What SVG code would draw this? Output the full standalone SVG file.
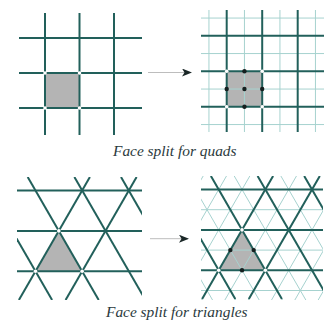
<svg xmlns="http://www.w3.org/2000/svg" width="333" height="329" viewBox="0 0 333 329">
<style>
.bg{fill:#ffffff}
.thick{stroke:#22605b;stroke-width:2;fill:none;stroke-linecap:butt}
.thin{stroke:#a6d2cf;stroke-width:1;fill:none}
.face{fill:#b4b4b4;stroke:none}
.hole{fill:#ffffff;stroke:none}
.dot{fill:#151f1f;stroke:none}
.arrowline{stroke:#bdbdbd;stroke-width:1}
.cap{font-family:"Liberation Serif","DejaVu Serif",serif;font-style:italic;font-size:15.4px;fill:#2b3a3d}
</style>
<defs>
<clipPath id="clipL"><rect x="17" y="177" width="125" height="123"/></clipPath>
<clipPath id="clipR"><rect x="201" y="176" width="122" height="124"/></clipPath>
<marker id="ah" viewBox="0 0 10 8" refX="9" refY="4" markerWidth="10" markerHeight="8" markerUnits="userSpaceOnUse" orient="auto">
<path d="M0,0 L10,4 L0,8 L2.5,4 Z" fill="#1a2727"/>
</marker>
</defs>
<rect class="bg" x="0" y="0" width="333" height="329"/>

<g id="quad-coarse">
<rect class="face" x="45" y="73" width="34.5" height="35"/>
<line class="thick" x1="19" y1="38" x2="142" y2="38"/>
<line class="thick" x1="19" y1="73" x2="142" y2="73"/>
<line class="thick" x1="19" y1="108" x2="142" y2="108"/>
<line class="thick" x1="45" y1="13" x2="45" y2="135"/>
<line class="thick" x1="79.5" y1="13" x2="79.5" y2="135"/>
<line class="thick" x1="114" y1="13" x2="114" y2="135"/>
<circle class="hole" cx="45" cy="73" r="1.8"/>
<circle class="hole" cx="79.5" cy="73" r="1.8"/>
<circle class="hole" cx="45" cy="108" r="1.8"/>
<circle class="hole" cx="79.5" cy="108" r="1.8"/>
</g>

<g id="quad-fine">
<rect class="face" x="226.7" y="71.3" width="35.5" height="35.5"/>
<line class="thin" x1="201" y1="18.05" x2="324" y2="18.05"/>
<line class="thin" x1="201" y1="53.55" x2="324" y2="53.55"/>
<line class="thin" x1="201" y1="89.05" x2="324" y2="89.05"/>
<line class="thin" x1="201" y1="124.55" x2="324" y2="124.55"/>
<line class="thin" x1="208.95" y1="10" x2="208.95" y2="132"/>
<line class="thin" x1="244.45" y1="10" x2="244.45" y2="132"/>
<line class="thin" x1="279.95" y1="10" x2="279.95" y2="132"/>
<line class="thin" x1="315.45" y1="10" x2="315.45" y2="132"/>
<line class="thick" x1="201" y1="35.8" x2="324" y2="35.8"/>
<line class="thick" x1="201" y1="71.3" x2="324" y2="71.3"/>
<line class="thick" x1="201" y1="106.8" x2="324" y2="106.8"/>
<line class="thick" x1="226.7" y1="10" x2="226.7" y2="132"/>
<line class="thick" x1="262.2" y1="10" x2="262.2" y2="132"/>
<line class="thick" x1="297.7" y1="10" x2="297.7" y2="132"/>
<circle class="hole" cx="226.7" cy="71.3" r="1.8"/>
<circle class="hole" cx="262.2" cy="71.3" r="1.8"/>
<circle class="hole" cx="226.7" cy="106.8" r="1.8"/>
<circle class="hole" cx="262.2" cy="106.8" r="1.8"/>
<circle class="dot" cx="244.45" cy="71.3" r="2.2"/>
<circle class="dot" cx="226.7" cy="89.05" r="2.2"/>
<circle class="dot" cx="262.2" cy="89.05" r="2.2"/>
<circle class="dot" cx="244.45" cy="106.8" r="2.2"/>
<circle class="dot" cx="244.45" cy="89.05" r="2.2"/>
</g>

<g id="tri-coarse">
<polygon class="face" points="58.83,230.9 35.5,271.3 82.15,271.3"/>
<g clip-path="url(#clipL)">
<line class="thick" x1="17" y1="190.5" x2="142" y2="190.5"/>
<line class="thick" x1="17" y1="230.9" x2="142" y2="230.9"/>
<line class="thick" x1="17" y1="271.3" x2="142" y2="271.3"/>
<line class="thick" x1="27.7" y1="177" x2="98.7" y2="300"/>
<line class="thick" x1="89.9" y1="177" x2="18.9" y2="300"/>
<line class="thick" x1="74.4" y1="177" x2="145" y2="299.3"/>
<line class="thick" x1="136.6" y1="177" x2="65.6" y2="300"/>
<line class="thick" x1="121" y1="177" x2="145" y2="218.6"/>
<line class="thick" x1="14" y1="234" x2="52.1" y2="300"/>
</g>
<circle class="hole" cx="58.83" cy="230.9" r="1.8"/>
<circle class="hole" cx="35.5" cy="271.3" r="1.8"/>
<circle class="hole" cx="82.15" cy="271.3" r="1.8"/>
</g>

<g id="tri-fine">
<polygon class="face" points="242.03,229.9 218.7,270.3 265.35,270.3"/>
<g clip-path="url(#clipR)">
<line class="thin" x1="201" y1="209.7" x2="323" y2="209.7"/>
<line class="thin" x1="201" y1="250.1" x2="323" y2="250.1"/>
<line class="thin" x1="201" y1="290.5" x2="323" y2="290.5"/>
<line class="thin" x1="114.14" y1="170" x2="192.09" y2="305"/>
<line class="thin" x1="137.47" y1="170" x2="215.42" y2="305"/>
<line class="thin" x1="160.79" y1="170" x2="238.74" y2="305"/>
<line class="thin" x1="184.12" y1="170" x2="262.07" y2="305"/>
<line class="thin" x1="207.44" y1="170" x2="285.39" y2="305"/>
<line class="thin" x1="230.77" y1="170" x2="308.72" y2="305"/>
<line class="thin" x1="254.09" y1="170" x2="332.04" y2="305"/>
<line class="thin" x1="277.42" y1="170" x2="355.37" y2="305"/>
<line class="thin" x1="300.74" y1="170" x2="378.69" y2="305"/>
<line class="thin" x1="324.07" y1="170" x2="402.02" y2="305"/>
<line class="thin" x1="206.64" y1="170" x2="128.69" y2="305"/>
<line class="thin" x1="229.96" y1="170" x2="152.01" y2="305"/>
<line class="thin" x1="253.29" y1="170" x2="175.34" y2="305"/>
<line class="thin" x1="276.61" y1="170" x2="198.66" y2="305"/>
<line class="thin" x1="299.94" y1="170" x2="221.99" y2="305"/>
<line class="thin" x1="323.26" y1="170" x2="245.31" y2="305"/>
<line class="thin" x1="346.59" y1="170" x2="268.64" y2="305"/>
<line class="thin" x1="369.91" y1="170" x2="291.96" y2="305"/>
<line class="thin" x1="393.24" y1="170" x2="315.29" y2="305"/>
<line class="thick" x1="201" y1="189.5" x2="323" y2="189.5"/>
<line class="thick" x1="201" y1="229.9" x2="323" y2="229.9"/>
<line class="thick" x1="201" y1="270.3" x2="323" y2="270.3"/>
<line class="thick" x1="210.9" y1="176" x2="281.9" y2="299"/>
<line class="thick" x1="273.1" y1="176" x2="202.1" y2="299"/>
<line class="thick" x1="257.6" y1="176" x2="328.2" y2="298.3"/>
<line class="thick" x1="319.8" y1="176" x2="248.8" y2="299"/>
<line class="thick" x1="304.2" y1="176" x2="328.2" y2="217.6"/>
<line class="thick" x1="197.2" y1="233" x2="235.3" y2="299"/>
</g>
<circle class="hole" cx="242.03" cy="229.9" r="1.8"/>
<circle class="hole" cx="218.7" cy="270.3" r="1.8"/>
<circle class="hole" cx="265.35" cy="270.3" r="1.8"/>
<circle class="dot" cx="230.36" cy="250.1" r="2.2"/>
<circle class="dot" cx="253.69" cy="250.1" r="2.2"/>
<circle class="dot" cx="242.03" cy="270.3" r="2.2"/>
</g>

<g id="connectors">
<line class="arrowline" x1="148" y1="72.5" x2="191" y2="72.5" marker-end="url(#ah)"/>
<line class="arrowline" x1="150" y1="238.7" x2="188" y2="238.7" marker-end="url(#ah)"/>
</g>

<g id="captions">
<text class="cap" x="113" y="156">Face split for quads</text>
<text class="cap" x="106" y="316.7">Face split for triangles</text>
</g>
</svg>
